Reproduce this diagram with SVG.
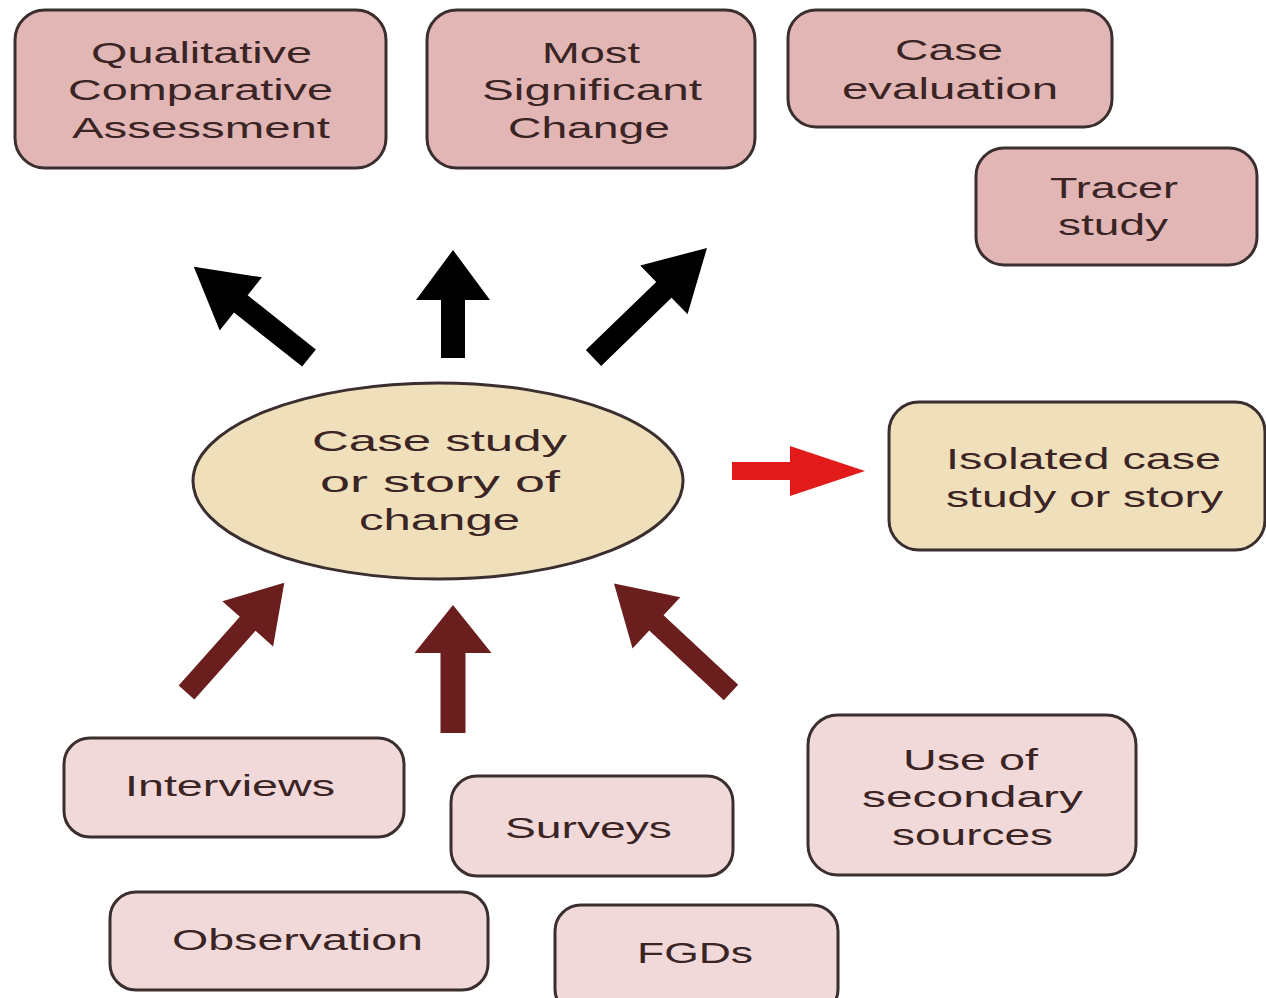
<svg xmlns="http://www.w3.org/2000/svg" width="1266" height="998" viewBox="0 0 1266 998">
  <style>
    .box { stroke: #3a2e2e; stroke-width: 3; }
    .top { fill: #e3b6b6; }
    .low { fill: #f2d9d9; }
    .tan { fill: #f0dfbb; }
    .lbl { font-family: "Liberation Sans", Arial, sans-serif; font-size: 29px; fill: #3a2424; }
    .blk { fill: #000000; }
    .brn { fill: #6a1e1e; }
    .red { fill: #e31a1a; }
  </style>
  <rect width="1266" height="998" fill="#ffffff"/>

  <!-- connectors: block arrows -->
  <g id="connectors">
    <path class="blk" transform="translate(309,358) rotate(-141.6)" d="M0,-11 H87 V-34 L147,0 L87,34 V11 H0 Z"/>
    <path class="blk" transform="translate(453,358) rotate(-90)" d="M0,-12 H58 V-37 L108,0 L58,37 V12 H0 Z"/>
    <path class="blk" transform="translate(593.5,358) rotate(-44.1)" d="M0,-11 H98 V-34 L158,0 L98,34 V11 H0 Z"/>
    <path class="brn" transform="translate(186.5,692.5) rotate(-48.3)" d="M0,-10.5 H92 V-34 L147,0 L92,34 V10.5 H0 Z"/>
    <path class="brn" transform="translate(453,733) rotate(-90)" d="M0,-12.5 H80 V-38.5 L128,0 L80,38.5 V12.5 H0 Z"/>
    <path class="brn" transform="translate(731,692.5) rotate(-137)" d="M0,-10.5 H102 V-35 L160,0 L102,35 V10.5 H0 Z"/>
    <path class="red" transform="translate(732,471)" d="M0,-9 H58 V-25 L133,0 L58,25 V9 H0 Z"/>
  </g>

  <g id="qca">
    <rect class="box top" x="15" y="10" width="371" height="158" rx="30"/>
    <text class="lbl" x="91" y="63" textLength="221" lengthAdjust="spacingAndGlyphs">Qualitative</text>
    <text class="lbl" x="68" y="100" textLength="265" lengthAdjust="spacingAndGlyphs">Comparative</text>
    <text class="lbl" x="72" y="138" textLength="258" lengthAdjust="spacingAndGlyphs">Assessment</text>
  </g>

  <g id="msc">
    <rect class="box top" x="427" y="10" width="328" height="158" rx="30"/>
    <text class="lbl" x="542" y="63" textLength="98" lengthAdjust="spacingAndGlyphs">Most</text>
    <text class="lbl" x="482" y="100" textLength="220" lengthAdjust="spacingAndGlyphs">Significant</text>
    <text class="lbl" x="508" y="138" textLength="162" lengthAdjust="spacingAndGlyphs">Change</text>
  </g>

  <g id="case-evaluation">
    <rect class="box top" x="788" y="10" width="324" height="117" rx="28"/>
    <text class="lbl" x="895" y="60" textLength="108" lengthAdjust="spacingAndGlyphs">Case</text>
    <text class="lbl" x="842" y="99" textLength="216" lengthAdjust="spacingAndGlyphs">evaluation</text>
  </g>

  <g id="tracer-study">
    <rect class="box top" x="976" y="148" width="281" height="117" rx="28"/>
    <text class="lbl" x="1050" y="198" textLength="128" lengthAdjust="spacingAndGlyphs">Tracer</text>
    <text class="lbl" x="1058" y="235" textLength="110" lengthAdjust="spacingAndGlyphs">study</text>
  </g>

  <g id="case-study">
    <ellipse class="box tan" cx="438" cy="481" rx="245" ry="98"/>
    <text class="lbl" x="312" y="451" textLength="255" lengthAdjust="spacingAndGlyphs">Case study</text>
    <text class="lbl" x="320" y="492" textLength="240" lengthAdjust="spacingAndGlyphs">or story of</text>
    <text class="lbl" x="359" y="530" textLength="161" lengthAdjust="spacingAndGlyphs">change</text>
  </g>

  <g id="isolated">
    <rect class="box tan" x="889" y="402" width="376" height="148" rx="30"/>
    <text class="lbl" x="946" y="469" textLength="275" lengthAdjust="spacingAndGlyphs">Isolated case</text>
    <text class="lbl" x="946" y="507" textLength="277" lengthAdjust="spacingAndGlyphs">study or story</text>
  </g>

  <g id="interviews">
    <rect class="box low" x="64" y="738" width="340" height="99" rx="26"/>
    <text class="lbl" x="125" y="796" textLength="210" lengthAdjust="spacingAndGlyphs">Interviews</text>
  </g>

  <g id="surveys">
    <rect class="box low" x="451" y="776" width="282" height="100" rx="26"/>
    <text class="lbl" x="505" y="838" textLength="167" lengthAdjust="spacingAndGlyphs">Surveys</text>
  </g>

  <g id="secondary-sources">
    <rect class="box low" x="808" y="715" width="328" height="160" rx="30"/>
    <text class="lbl" x="903" y="770" textLength="135" lengthAdjust="spacingAndGlyphs">Use of</text>
    <text class="lbl" x="862" y="807" textLength="221" lengthAdjust="spacingAndGlyphs">secondary</text>
    <text class="lbl" x="892" y="845" textLength="161" lengthAdjust="spacingAndGlyphs">sources</text>
  </g>

  <g id="observation">
    <rect class="box low" x="110" y="892" width="378" height="98" rx="26"/>
    <text class="lbl" x="172" y="950" textLength="251" lengthAdjust="spacingAndGlyphs">Observation</text>
  </g>

  <g id="fgds">
    <rect class="box low" x="555" y="905" width="283" height="110" rx="26"/>
    <text class="lbl" x="637" y="963" textLength="116" lengthAdjust="spacingAndGlyphs">FGDs</text>
  </g>
</svg>
